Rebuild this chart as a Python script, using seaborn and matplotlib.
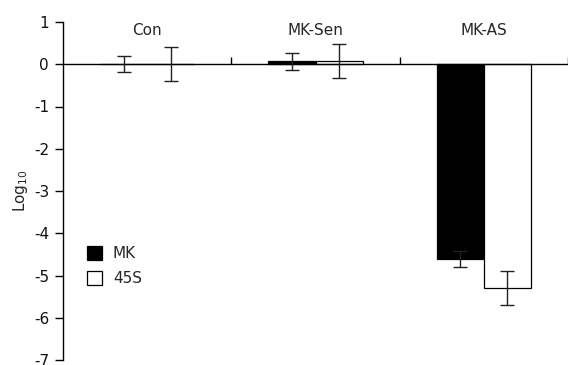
import matplotlib
matplotlib.use("Agg")
import matplotlib.pyplot as plt
import seaborn as sns
import pandas as pd

groups = ["Con", "MK-Sen", "MK-AS"]
series = ["MK", "45S"]
mk_vals = [0.0, 0.07, -4.6]
s45_vals = [0.0, 0.08, -5.3]
mk_err = [0.19, 0.2, 0.19]
s45_err = [0.4, 0.41, 0.4]

df = pd.DataFrame({
    "group": groups * 2,
    "series": [series[0]] * 3 + [series[1]] * 3,
    "value": mk_vals + s45_vals,
})
errs = [mk_err, s45_err]

sns.set_style("white")
plt.rcParams["font.family"] = ["DejaVu Sans"]
plt.rcParams["axes.unicode_minus"] = False

fig = plt.figure(figsize=(5.68, 3.65), dpi=100)
ax = fig.add_axes([63 / 568, 5 / 365, 505 / 568, 338 / 365])

sns.barplot(data=df, x="group", y="value", hue="series", order=groups,
            hue_order=series, palette=["black", "white"], edgecolor="black",
            linewidth=0.9, width=0.56, errorbar=None, ax=ax)

# error bars on the bar centres
for cont, err in zip(ax.containers, errs):
    for bar, e in zip(cont, err):
        xc = bar.get_x() + bar.get_width() / 2
        yv = bar.get_y() + bar.get_height() if bar.get_y() >= 0 else bar.get_y()
        ax.errorbar(xc, yv, yerr=e, color="#222222", lw=1, capsize=5,
                    capthick=1, zorder=5)

ax.set_xlim(-0.5, 2.5)
ax.set_ylim(-7, 1)
ax.set_yticks(range(-7, 2))
ax.spines["top"].set_visible(False)
ax.spines["right"].set_visible(False)
ax.spines["bottom"].set_position(("data", 0))
for s in ["left", "bottom"]:
    ax.spines[s].set_color("black")
    ax.spines[s].set_linewidth(1)

ax.set_xticks([0.5, 1.5, 2.5])
ax.set_xticklabels([])
ax.tick_params(axis="x", direction="in", length=5, width=1, color="black", bottom=True)
ax.tick_params(axis="y", direction="out", length=6, width=1, color="black",
               left=True, labelsize=11, pad=4, labelcolor="#111111")
ax.set_xlabel("")
ax.set_ylabel("Log$_{\\mathregular{10}}$", fontsize=11)
ax.yaxis.set_label_coords(-0.065, 0.5)

for i, g in enumerate(groups):
    ax.text(i, 0.8, g, ha="center", va="center", fontsize=11)

ax.legend(loc="upper left", bbox_to_anchor=(0.035, 0.355), frameon=False,
          fontsize=11, handlelength=1.0, handleheight=1.0, handletextpad=0.7,
          labelspacing=0.65, borderaxespad=0)

fig.savefig("out.png", dpi=100)
